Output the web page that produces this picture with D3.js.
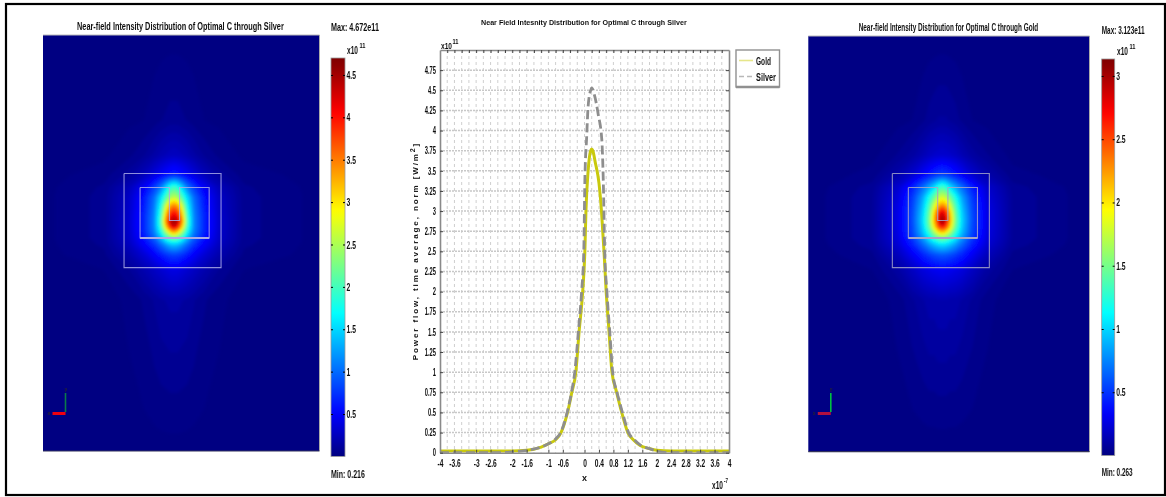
<!DOCTYPE html>
<html>
<head>
<meta charset="utf-8">
<style>
  body { margin: 0; background: #fff; }
  text { font-family: "Liberation Sans", sans-serif; fill: #111; }
</style>
<script src="https://cdn.jsdelivr.net/npm/d3@7"></script>
</head>
<body>
<svg id="chart" width="1166" height="497"></svg>
<script>
// Line plot data, x in 1e-7, y in 1e11
const goldX = [-4, -2.4, -2, -1.6, -1.2, -1, -0.8, -0.65, -0.47, -0.35, -0.24, -0.15, -0.05, 0.01, 0.04, 0.1, 0.17, 0.2, 0.23, 0.3, 0.4, 0.47, 0.54, 0.6, 0.68, 0.76, 0.89, 1.03, 1.2, 1.35, 1.54, 1.8, 2, 2.4, 4];
const goldY = [0.02, 0.02, 0.02, 0.03, 0.07, 0.11, 0.16, 0.25, 0.5, 0.75, 1, 1.5, 2, 2.5, 3, 3.5, 3.75, 3.77, 3.75, 3.6, 3.35, 3, 2.5, 2, 1.5, 1, 0.75, 0.5, 0.25, 0.16, 0.09, 0.05, 0.03, 0.02, 0.02];
const silverX = [-4, -2.4, -2, -1.6, -1.2, -1, -0.8, -0.65, -0.48, -0.36, -0.27, -0.17, -0.08, -0.02, 0.01, 0.06, 0.1, 0.17, 0.2, 0.27, 0.38, 0.48, 0.52, 0.56, 0.62, 0.7, 0.78, 0.9, 1.05, 1.22, 1.38, 1.56, 1.8, 2, 2.4, 4];
const silverY = [0, 0, 0.01, 0.03, 0.07, 0.11, 0.17, 0.26, 0.5, 0.75, 1, 1.5, 2, 2.5, 3.38, 3.92, 4.3, 4.5, 4.53, 4.45, 4.2, 3.88, 3.38, 2.5, 2, 1.5, 1, 0.75, 0.5, 0.25, 0.16, 0.09, 0.05, 0.02, 0, 0];

const xTicks = [-4, -3.6, -3, -2.6, -2, -1.6, -1, -0.6, 0, 0.4, 0.8, 1.2, 1.6, 2, 2.4, 2.8, 3.2, 3.6, 4];
const yTicks = [0, 0.25, 0.5, 0.75, 1, 1.25, 1.5, 1.75, 2, 2.25, 2.5, 2.75, 3, 3.25, 3.5, 3.75, 4, 4.25, 4.5, 4.75];
const gridX = [-3.8, -3.6, -3.4, -3.2, -3, -2.8, -2.6, -2.4, -2.2, -2, -1.8, -1.6, -1.4, -1.2, -1, -0.8, -0.6, -0.4, -0.2, 0, 0.2, 0.4, 0.6, 0.8, 1, 1.2, 1.4, 1.6, 1.8, 2, 2.2, 2.4, 2.6, 2.8, 3, 3.2, 3.4, 3.6, 3.8];

// Field maps, sampled on an uneven grid around the hot spot (values in 1e11)
const fieldX = [-5.6, -2.89, -1.86, -1.24, -0.82, -0.54, -0.33, -0.16, 0, 0.16, 0.33, 0.54, 0.82, 1.24, 1.86, 2.89, 6.1];
const fieldY = [7.8, 4.21, 2.76, 1.94, 1.44, 1.03, 0.7, 0.41, 0.16, 0, -0.21, -0.41, -0.66, -0.95, -1.36, -1.98, -3.22, -9.5];

const silverField = [
  [0.01, 0.01, 0.01, 0.01, 0.01, 0.01, 0.01, 0.01, 0.01, 0.01, 0.01, 0.01, 0.01, 0.01, 0.01, 0.01, 0.01],
  [0.01, 0.01, 0.02, 0.03, 0.05, 0.07, 0.08, 0.09, 0.09, 0.09, 0.08, 0.07, 0.05, 0.03, 0.02, 0.01, 0.01],
  [0.01, 0.02, 0.06, 0.11, 0.17, 0.22, 0.25, 0.27, 0.28, 0.27, 0.25, 0.22, 0.17, 0.11, 0.06, 0.02, 0.01],
  [0.01, 0.05, 0.14, 0.26, 0.4, 0.5, 0.58, 0.64, 0.68, 0.64, 0.58, 0.5, 0.4, 0.26, 0.14, 0.05, 0.01],
  [0.01, 0.08, 0.25, 0.5, 0.8, 1.1, 1.5, 1.85, 2, 1.85, 1.5, 1.1, 0.8, 0.5, 0.25, 0.08, 0.01],
  [0.01, 0.09, 0.3, 0.62, 1.02, 1.55, 2.05, 2.45, 2.6, 2.45, 2.05, 1.55, 1.02, 0.62, 0.3, 0.09, 0.01],
  [0.01, 0.09, 0.31, 0.65, 1.08, 1.75, 2.65, 3.25, 3.45, 3.25, 2.65, 1.75, 1.08, 0.65, 0.31, 0.09, 0.01],
  [0.01, 0.09, 0.32, 0.68, 1.12, 1.9, 3.05, 3.8, 4, 3.8, 3.05, 1.9, 1.12, 0.68, 0.32, 0.09, 0.01],
  [0.01, 0.09, 0.33, 0.7, 1.15, 2, 3.35, 4.15, 4.4, 4.15, 3.35, 2, 1.15, 0.7, 0.33, 0.09, 0.01],
  [0.01, 0.09, 0.33, 0.7, 1.15, 2.05, 3.45, 4.35, 4.67, 4.35, 3.45, 2.05, 1.15, 0.7, 0.33, 0.09, 0.01],
  [0.01, 0.09, 0.33, 0.7, 1.15, 1.95, 3.1, 3.95, 4.25, 3.95, 3.1, 1.95, 1.15, 0.7, 0.33, 0.09, 0.01],
  [0.01, 0.09, 0.32, 0.68, 1.1, 1.75, 2.5, 3.05, 3.35, 3.05, 2.5, 1.75, 1.1, 0.68, 0.32, 0.09, 0.01],
  [0.01, 0.09, 0.31, 0.62, 0.98, 1.4, 1.85, 2.1, 2.25, 2.1, 1.85, 1.4, 0.98, 0.62, 0.31, 0.09, 0.01],
  [0.01, 0.08, 0.27, 0.52, 0.75, 1, 1.2, 1.35, 1.4, 1.35, 1.2, 1, 0.75, 0.52, 0.27, 0.08, 0.01],
  [0.01, 0.06, 0.2, 0.36, 0.52, 0.65, 0.74, 0.8, 0.82, 0.8, 0.74, 0.65, 0.52, 0.36, 0.2, 0.06, 0.01],
  [0.01, 0.03, 0.11, 0.21, 0.29, 0.34, 0.38, 0.41, 0.42, 0.41, 0.38, 0.34, 0.29, 0.21, 0.11, 0.03, 0.01],
  [0.01, 0.01, 0.04, 0.08, 0.12, 0.15, 0.16, 0.17, 0.17, 0.17, 0.16, 0.15, 0.12, 0.08, 0.04, 0.01, 0.01],
  [0.01, 0.01, 0.01, 0.01, 0.01, 0.01, 0.01, 0.01, 0.01, 0.01, 0.01, 0.01, 0.01, 0.01, 0.01, 0.01, 0.01]
];
const goldField = [
  [0.01, 0.01, 0.01, 0.01, 0.01, 0.01, 0.01, 0.01, 0.01, 0.01, 0.01, 0.01, 0.01, 0.01, 0.01, 0.01, 0.01],
  [0.01, 0.01, 0.02, 0.03, 0.05, 0.07, 0.08, 0.09, 0.09, 0.09, 0.08, 0.07, 0.05, 0.03, 0.02, 0.01, 0.01],
  [0.01, 0.02, 0.06, 0.1, 0.15, 0.19, 0.21, 0.22, 0.23, 0.22, 0.21, 0.19, 0.15, 0.1, 0.06, 0.02, 0.01],
  [0.01, 0.04, 0.13, 0.23, 0.34, 0.42, 0.48, 0.52, 0.54, 0.52, 0.48, 0.42, 0.34, 0.23, 0.13, 0.04, 0.01],
  [0.01, 0.07, 0.22, 0.44, 0.68, 0.88, 1.05, 1.25, 1.35, 1.25, 1.05, 0.88, 0.68, 0.44, 0.22, 0.07, 0.01],
  [0.01, 0.08, 0.25, 0.52, 0.85, 1.2, 1.48, 1.72, 1.82, 1.72, 1.48, 1.2, 0.85, 0.52, 0.25, 0.08, 0.01],
  [0.01, 0.08, 0.27, 0.55, 0.92, 1.35, 1.8, 2.15, 2.3, 2.15, 1.8, 1.35, 0.92, 0.55, 0.27, 0.08, 0.01],
  [0.01, 0.08, 0.28, 0.57, 0.97, 1.45, 2.05, 2.6, 2.85, 2.6, 2.05, 1.45, 0.97, 0.57, 0.28, 0.08, 0.01],
  [0.01, 0.08, 0.28, 0.58, 1, 1.5, 2.15, 2.8, 3.05, 2.8, 2.15, 1.5, 1, 0.58, 0.28, 0.08, 0.01],
  [0.01, 0.08, 0.28, 0.58, 1, 1.5, 2.15, 2.75, 3.12, 2.75, 2.15, 1.5, 1, 0.58, 0.28, 0.08, 0.01],
  [0.01, 0.08, 0.28, 0.57, 0.97, 1.45, 2, 2.5, 2.7, 2.5, 2, 1.45, 0.97, 0.57, 0.28, 0.08, 0.01],
  [0.01, 0.08, 0.27, 0.56, 0.93, 1.3, 1.7, 2, 2.15, 2, 1.7, 1.3, 0.93, 0.56, 0.27, 0.08, 0.01],
  [0.01, 0.08, 0.26, 0.52, 0.82, 1.1, 1.3, 1.45, 1.52, 1.45, 1.3, 1.1, 0.82, 0.52, 0.26, 0.08, 0.01],
  [0.01, 0.07, 0.23, 0.44, 0.65, 0.82, 0.93, 1, 1.03, 1, 0.93, 0.82, 0.65, 0.44, 0.23, 0.07, 0.01],
  [0.01, 0.05, 0.17, 0.32, 0.45, 0.53, 0.58, 0.61, 0.62, 0.61, 0.58, 0.53, 0.45, 0.32, 0.17, 0.05, 0.01],
  [0.01, 0.03, 0.1, 0.19, 0.26, 0.29, 0.31, 0.32, 0.33, 0.32, 0.31, 0.29, 0.26, 0.19, 0.1, 0.03, 0.01],
  [0.01, 0.01, 0.04, 0.08, 0.11, 0.13, 0.13, 0.14, 0.14, 0.14, 0.13, 0.13, 0.11, 0.08, 0.04, 0.01, 0.01],
  [0.01, 0.01, 0.01, 0.01, 0.01, 0.01, 0.01, 0.01, 0.01, 0.01, 0.01, 0.01, 0.01, 0.01, 0.01, 0.01, 0.01]
];

const silverBarTicks = [0.5, 1, 1.5, 2, 2.5, 3, 3.5, 4, 4.5];
const goldBarTicks = [0.5, 1, 1.5, 2, 2.5, 3];

// Device outline in the same model units as fieldX / fieldY
const outerBox = [[-2.06, 2.0], [1.94, 2.0], [1.94, -1.88], [-2.06, -1.88], [-2.06, 2.0]];
const innerBox = [[-1.4, 1.42], [-0.19, 1.42], [-0.19, 0.06], [0.23, 0.06], [0.23, 1.42], [1.45, 1.42], [1.45, -0.66], [-1.4, -0.66], [-1.4, 1.42]];

const svg = d3.select('#chart');

const defs = svg.append('defs');
defs.append('filter').attr('id', 'soft')
  .attr('x', '-5%').attr('y', '-20%').attr('width', '110%').attr('height', '140%')
  .append('feGaussianBlur').attr('stdDeviation', 0.35);
defs.append('filter').attr('id', 'fieldBlur')
  .attr('x', '-2%').attr('y', '-2%').attr('width', '104%').attr('height', '104%')
  .append('feGaussianBlur').attr('stdDeviation', 1.6);

// Outer frame
svg.append('rect')
  .attr('x', 6).attr('y', 4)
  .attr('width', 1159).attr('height', 491)
  .attr('fill', 'none')
  .attr('stroke', '#000')
  .attr('stroke-width', 2.2);

function jetScale(max) {
  return d3.scaleLinear()
    .domain([0, 0.11, 0.36, 0.62, 0.87, 1].map(d => d * max))
    .range(['#000080', '#0000ff', '#00ffff', '#ffff00', '#ff0000', '#800000'])
    .clamp(true);
}

// The source text is a squeezed font, so narrow it horizontally to a given width
function label(g, x, y, str, opts = {}) {
  const t = g.append('text')
    .attr('font-size', opts.size || 10)
    .attr('font-weight', opts.weight || 'bold')
    .text(str);
  const sx = opts.len ? opts.len / t.node().getComputedTextLength() : (opts.sx || 1);
  t.attr('transform', `translate(${x},${y}) scale(${sx},1)`);
  return t;
}

// Squeeze d3 axis labels about their anchor
function squeezeTicks(sel, sx, size) {
  sel.selectAll('text')
    .attr('font-size', size)
    .attr('font-weight', 'bold')
    .attr('font-family', '"Liberation Sans", sans-serif')
    .attr('filter', 'url(#soft)')
    .each(function() {
      const t = d3.select(this);
      t.attr('x', +t.attr('x') / sx).attr('transform', `scale(${sx},1)`);
    });
}

function drawPanel(cfg) {
  const g = svg.append('g');
  const color = jetScale(cfg.max);
  const unit = 24.25;

  const px = d3.scaleLinear().domain([(cfg.left - cfg.cx) / unit, (cfg.right - cfg.cx) / unit]).range([cfg.left, cfg.right]);
  const py = d3.scaleLinear().domain([(222 - cfg.top) / unit, (222 - cfg.bottom) / unit]).range([cfg.top, cfg.bottom]);

  const clipId = 'clip-' + cfg.id;
  defs.append('clipPath').attr('id', clipId)
    .append('rect')
    .attr('x', cfg.left).attr('y', cfg.top)
    .attr('width', cfg.right - cfg.left).attr('height', cfg.bottom - cfg.top);

  g.append('rect')
    .attr('x', cfg.left).attr('y', cfg.top)
    .attr('width', cfg.right - cfg.left).attr('height', cfg.bottom - cfg.top)
    .attr('fill', color(0.01));

  // contour grid coordinates sit at cell centres, so map i + 0.5 to the sample position
  const ix = d3.scaleLinear().domain(fieldX.map((d, i) => i + 0.5)).range(fieldX.map(d => px(d))).clamp(true);
  const iy = d3.scaleLinear().domain(fieldY.map((d, i) => i + 0.5)).range(fieldY.map(d => py(d))).clamp(true);
  const path = d3.geoPath(d3.geoTransform({
    point(x, y) { this.stream.point(ix(x), iy(y)); }
  }));

  const contours = d3.contours()
    .size([fieldX.length, fieldY.length])
    .thresholds(d3.range(0.03, cfg.max, cfg.max / 110))(cfg.field.flat());

  g.append('g')
    .attr('clip-path', `url(#${clipId})`)
    .append('g')
    .attr('filter', 'url(#fieldBlur)')
    .selectAll('path')
    .data(contours)
    .enter()
    .append('path')
    .attr('d', path)
    .attr('fill', d => color(d.value));

  // Device outline
  const outline = d3.line().x(d => px(d[0])).y(d => py(d[1]));
  [outerBox, innerBox].forEach(pts => {
    g.append('path')
      .attr('d', outline(pts))
      .attr('fill', 'none')
      .attr('stroke', cfg.boxColor)
      .attr('stroke-opacity', 0.85)
      .attr('stroke-width', 1.1);
  });
  g.append('path')
    .attr('d', outline(innerBox.slice(6, 8)))
    .attr('stroke', cfg.boxColor)
    .attr('stroke-width', 2);

  // Panel edges
  g.append('line').attr('x1', cfg.left).attr('x2', cfg.right).attr('y1', cfg.top).attr('y2', cfg.top)
    .attr('stroke', '#bbb').attr('stroke-width', 1);
  g.append('line').attr('x1', cfg.right).attr('x2', cfg.right).attr('y1', cfg.top).attr('y2', cfg.bottom)
    .attr('stroke', '#aaa').attr('stroke-width', 1);
  g.append('line').attr('x1', cfg.left).attr('x2', cfg.right).attr('y1', cfg.bottom).attr('y2', cfg.bottom)
    .attr('stroke', '#33335a').attr('stroke-width', 1.2);

  // Little xy triad
  const tx = cfg.left + 22.5;
  g.append('line').attr('x1', tx).attr('x2', tx).attr('y1', 393).attr('y2', 412)
    .attr('stroke', cfg.triadGreen).attr('stroke-width', 1.6);
  g.append('line').attr('x1', tx - 13).attr('x2', tx).attr('y1', 413.5).attr('y2', 413.5)
    .attr('stroke', cfg.triadRed).attr('stroke-width', 3);
  const triad = g.append('g').attr('filter', 'url(#soft)');
  label(triad, tx - 1, 391, 'y', { size: 5 }).style('fill', '#223');
  label(triad, tx - 18, 415, 'x', { size: 5 }).style('fill', '#223');

  // Colour bar
  const barY = d3.scaleLinear().domain([0, cfg.barMax]).range([cfg.barZero, cfg.barTop]);
  const gradId = 'grad-' + cfg.id;
  defs.append('linearGradient').attr('id', gradId)
    .attr('x1', 0).attr('x2', 0).attr('y1', 1).attr('y2', 0)
    .selectAll('stop')
    .data(d3.range(0, 1.001, 0.02))
    .enter()
    .append('stop')
    .attr('offset', d => d)
    .attr('stop-color', d => color(d * cfg.barMax));
  g.append('rect')
    .attr('x', cfg.barX).attr('y', cfg.barTop)
    .attr('width', cfg.barW).attr('height', cfg.barZero - cfg.barTop)
    .attr('fill', `url(#${gradId})`)
    .attr('stroke', '#999')
    .attr('stroke-width', 0.8);

  // ticks point into the bar from both sides
  const axisR = g.append('g')
    .attr('transform', `translate(${cfg.barX + cfg.barW},0)`)
    .call(d3.axisRight(barY).tickValues(cfg.barTicks).tickSize(-2).tickPadding(1.5).tickFormat(d => d));
  axisR.select('.domain').remove();
  squeezeTicks(axisR, 0.62, 11);
  const axisL = g.append('g')
    .attr('transform', `translate(${cfg.barX},0)`)
    .call(d3.axisLeft(barY).tickValues(cfg.barTicks).tickSize(-2).tickFormat(''));
  axisL.select('.domain').remove();

  // Texts
  const txt = g.append('g').attr('filter', 'url(#soft)');
  label(txt, cfg.titleX, cfg.titleY, cfg.title, { len: cfg.titleLen, size: 10 });
  label(txt, cfg.barX, cfg.maxY, cfg.maxText, { len: cfg.maxLen, size: 10 });
  label(txt, cfg.barX, cfg.minY, cfg.minText, { len: cfg.minLen, size: 10 });
  label(txt, cfg.expX, cfg.expY, 'x10', { size: 10, len: 11 });
  label(txt, cfg.expX + 12.5, cfg.expY - 6, '11', { size: 7, len: 6 });
}

drawPanel({
  id: 'silver', field: silverField, max: 4.672, barMax: 4.7, barTicks: silverBarTicks,
  left: 43, right: 319.5, top: 35, bottom: 451, cx: 174,
  barX: 331, barW: 14, barTop: 58, barZero: 456.4,
  boxColor: '#a9a9e6', triadGreen: '#0a7a4a', triadRed: '#f00010',
  title: 'Near-field Intensity Distribution of Optimal C  through Silver', titleX: 77, titleY: 30, titleLen: 207,
  maxText: 'Max: 4.672e11', maxY: 31, maxLen: 48,
  minText: 'Min: 0.216', minY: 478, minLen: 34,
  expX: 347, expY: 54
});

drawPanel({
  id: 'gold', field: goldField, max: 3.123, barMax: 3.134, barTicks: goldBarTicks,
  left: 808.3, right: 1089.5, top: 36, bottom: 451.7, cx: 942.3,
  barX: 1101.7, barW: 13, barTop: 59, barZero: 455.5,
  boxColor: '#a3a3c8', triadGreen: '#00c040', triadRed: '#b01040',
  title: 'Near-field Intensity Distribution for Optimal C through Gold', titleX: 858.7, titleY: 31, titleLen: 180,
  maxText: 'Max: 3.123e11', maxY: 34, maxLen: 43,
  minText: 'Min: 0.263', minY: 476, minLen: 31,
  expX: 1117, expY: 55
});

// Centre line plot
const margin = { left: 440, right: 729, top: 50, bottom: 452.7 };
const x = d3.scaleLinear().domain([-4, 4]).range([margin.left, margin.right]);
const y = d3.scaleLinear().domain([0, 5]).range([margin.bottom, margin.top]);

defs.append('clipPath').attr('id', 'clip-plot')
  .append('rect')
  .attr('x', margin.left).attr('y', margin.top)
  .attr('width', margin.right - margin.left).attr('height', margin.bottom - margin.top);

const plot = svg.append('g');

plot.append('g')
  .selectAll('line')
  .data(gridX)
  .enter()
  .append('line')
  .attr('x1', d => x(d)).attr('x2', d => x(d))
  .attr('y1', margin.top).attr('y2', margin.bottom)
  .attr('stroke', '#cfcfcf')
  .attr('stroke-width', 1)
  .attr('stroke-dasharray', '3,3');

plot.append('g')
  .selectAll('line')
  .data(yTicks.slice(1))
  .enter()
  .append('line')
  .attr('x1', margin.left).attr('x2', margin.right)
  .attr('y1', d => y(d)).attr('y2', d => y(d))
  .attr('stroke', '#c8c8c8')
  .attr('stroke-width', 1.5)
  .attr('stroke-dasharray', '2,1');

const line = d3.line().x(d => x(d[0])).y(d => y(d[1])).curve(d3.curveMonotoneX);
const curves = plot.append('g').attr('clip-path', 'url(#clip-plot)');

// white casing so the gaps of the dashes read as in the original
curves.append('path')
  .datum(d3.zip(silverX, silverY))
  .attr('fill', 'none')
  .attr('stroke', '#fff')
  .attr('stroke-width', 3)
  .attr('d', line);

curves.append('path')
  .datum(d3.zip(goldX, goldY))
  .attr('fill', 'none')
  .attr('stroke', '#c9c90e')
  .attr('stroke-width', 3)
  .attr('d', line);

curves.append('path')
  .datum(d3.zip(silverX, silverY))
  .attr('fill', 'none')
  .attr('stroke', '#8e8e8e')
  .attr('stroke-width', 2.8)
  .attr('stroke-dasharray', '9,4')
  .attr('d', line);

function styleAxis(sel) {
  sel.select('.domain').attr('stroke', '#8a8a8a').attr('stroke-width', 1.6);
  sel.selectAll('.tick line').attr('stroke', '#444');
}

plot.append('g')
  .attr('transform', `translate(0,${margin.bottom})`)
  .call(d3.axisBottom(x).tickValues(xTicks).tickSize(-3).tickSizeOuter(0).tickPadding(7).tickFormat(d => d))
  .call(styleAxis)
  .call(squeezeTicks, 0.66, 10);
plot.append('g')
  .attr('transform', `translate(${margin.left},0)`)
  .call(d3.axisLeft(y).tickValues(yTicks).tickSize(-3).tickSizeOuter(0).tickPadding(4).tickFormat(d => d))
  .call(styleAxis)
  .call(squeezeTicks, 0.58, 10);
plot.append('g')
  .attr('transform', `translate(0,${margin.top})`)
  .call(d3.axisTop(x).tickValues(gridX).tickSize(-3).tickSizeOuter(0).tickFormat(''))
  .call(styleAxis);
plot.append('g')
  .attr('transform', `translate(${margin.right},0)`)
  .call(d3.axisRight(y).tickValues(yTicks).tickSize(-3).tickSizeOuter(0).tickFormat(''))
  .call(styleAxis);

// Legend
const legend = svg.append('g');
legend.append('rect')
  .attr('x', 736).attr('y', 50).attr('width', 43.5).attr('height', 37)
  .attr('fill', '#fff').attr('stroke', '#909090').attr('stroke-width', 1.4);
legend.append('line').attr('x1', 736).attr('x2', 779.5).attr('y1', 87).attr('y2', 87)
  .attr('stroke', '#909090').attr('stroke-width', 2.4);
legend.append('line').attr('x1', 739).attr('x2', 753).attr('y1', 60.5).attr('y2', 60.5)
  .attr('stroke', '#e6e68a').attr('stroke-width', 1.6);
legend.append('line').attr('x1', 739).attr('x2', 753).attr('y1', 76.5).attr('y2', 76.5)
  .attr('stroke', '#b8b8b8').attr('stroke-width', 1.6).attr('stroke-dasharray', '5,3');
const legendText = legend.append('g').attr('filter', 'url(#soft)');
label(legendText, 756, 65, 'Gold', { size: 10.5, len: 15 });
label(legendText, 756, 80.5, 'Silver', { size: 10.5, len: 20 });

// Plot labels
const labels = svg.append('g').attr('filter', 'url(#soft)');
label(labels, 481, 25, 'Near Field Intesnity Distribution for Optimal C through Silver', { size: 8, len: 206 });
label(labels, 582, 481, 'x', { size: 9 });
label(labels, 441, 49, 'x10', { size: 9, len: 11 });
label(labels, 452.5, 44, '11', { size: 7, len: 6 });
label(labels, 712, 489, 'x10', { size: 10, len: 11 });
label(labels, 724, 483, '-7', { size: 7, len: 4 });

const yTitle = labels.append('text')
  .attr('font-size', 8)
  .attr('font-weight', 'bold')
  .attr('text-anchor', 'middle')
  .attr('letter-spacing', 1.9)
  .attr('transform', 'translate(418,251) rotate(-90)')
  .text('Power flow, time average, norm [W/m');
yTitle.append('tspan').attr('dy', -3).attr('font-size', 7).text('2');
yTitle.append('tspan').attr('dy', 3).text(']');
</script>
</body>
</html>
